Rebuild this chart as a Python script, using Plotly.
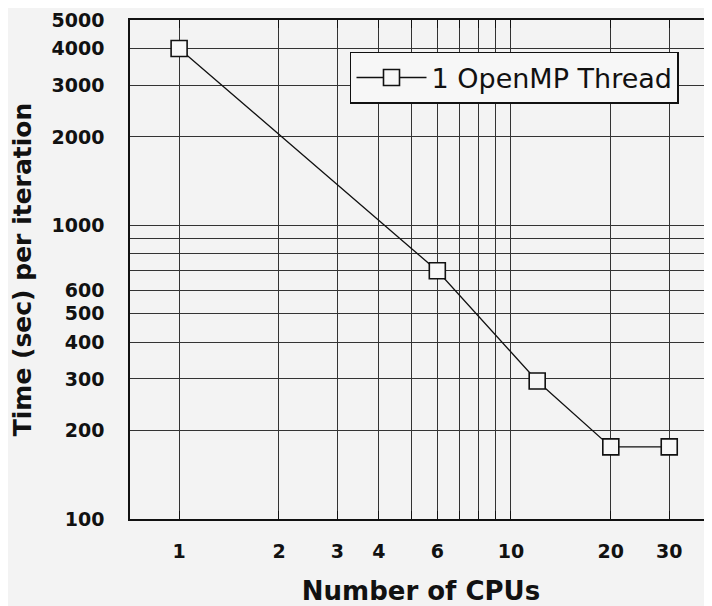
import numpy as np
import plotly.graph_objects as go

# data
cpus = [1, 6, 12, 20, 30]
time_per_iter = [4000, 700, 295, 176, 176]
series_name = "1 OpenMP Thread"

x_grid = [1, 2, 3, 4, 5, 6, 7, 8, 9, 10, 20, 30]
x_labels = ["1", "2", "3", "4", "", "6", "", "", "", "10", "20", "30"]
y_grid = [100, 200, 300, 400, 500, 600, 700, 800, 900, 1000, 2000, 3000, 4000, 5000]
y_labels = ["100", "200", "300", "400", "500", "600", "", "", "", "1000", "2000", "3000", "4000", "5000"]

bg = "#f3f3f3"

fig = go.Figure()
fig.add_trace(go.Scatter(
    x=cpus, y=time_per_iter, name=series_name,
    mode="lines+markers",
    line=dict(color="#111", width=1.3),
    marker=dict(symbol="square", size=16, color="#f7f7f7",
                line=dict(color="#111", width=1.6)),
))

# page body adds an 8px offset, so the figure is a bit smaller than the window
fig.update_layout(
    width=704, height=598,
    margin=dict(l=122, r=0, t=12, b=87),
    paper_bgcolor=bg, plot_bgcolor=bg,
    showlegend=True,
    legend=dict(
        x=0.378, y=0.936, xanchor="left", yanchor="top",
        bgcolor="#f7f7f7", bordercolor="#111", borderwidth=1.5,
        itemwidth=70,
        font=dict(family="DejaVu Sans", size=27, color="#111"),
    ),
)

fig.update_xaxes(
    type="log", range=[-0.148, 1.606],
    tickvals=x_grid, ticktext=x_labels,
    tickfont=dict(family="DejaVu Sans", size=19, color="#111", weight="bold"),
    ticklabelstandoff=14,
    ticks="inside", ticklen=8, tickcolor="#111",
    showgrid=True, gridcolor="#333", gridwidth=1,
    showline=True, linecolor="#111", linewidth=1.5, mirror="allticks",
    zeroline=False,
    title=dict(text="Number of CPUs", standoff=21,
               font=dict(family="DejaVu Sans", size=26, color="#111", weight="bold")),
    automargin=False,
)
fig.update_yaxes(
    type="log", range=[2, np.log10(5000)],
    tickvals=y_grid, ticktext=y_labels,
    tickfont=dict(family="DejaVu Sans", size=19, color="#111", weight="bold"),
    ticklabelstandoff=20,
    ticks="",
    showgrid=True, gridcolor="#333", gridwidth=1,
    showline=True, linecolor="#111", linewidth=1.5,
    zeroline=False,
    title=dict(text="Time (sec) per iteration", standoff=14,
               font=dict(family="DejaVu Sans", size=25, color="#111", weight="bold")),
    automargin=False,
)

fig.write_html("out.html")
